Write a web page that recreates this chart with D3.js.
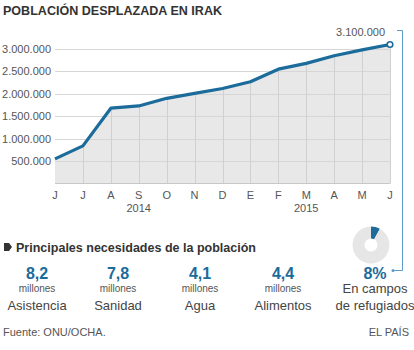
<!DOCTYPE html>
<html>
<head>
<meta charset="utf-8">
<script src="https://cdn.jsdelivr.net/npm/d3@7"></script>
<style>
  body { margin: 0; background: #fff; }
  svg { display: block; font-family: "Liberation Sans", Arial, sans-serif; }
</style>
</head>
<body>
<svg id="chart" width="414" height="350"></svg>
<script>
// months from June 2014 to June 2015
const months = ["J", "J", "A", "S", "O", "N", "D", "E", "F", "M", "A", "M", "J"];
const displaced = [550000, 840000, 1680000, 1730000, 1900000, 2010000, 2120000, 2270000, 2550000, 2680000, 2850000, 2980000, 3100000];
const yTicks = [500000, 1000000, 1500000, 2000000, 2500000, 3000000];
const yearLabels = ["2014", "2015"];
const yearAt = [3, 9];

const needValues = ["8,2", "7,8", "4,1", "4,4"];
const needNames = ["Asistencia", "Sanidad", "Agua", "Alimentos"];
const campShare = 8;

const blue = "#1b6b9b";
const svg = d3.select("#chart");
const es = d3.formatLocale({decimal: ",", thousands: ".", grouping: [3], currency: ["", "€"]});
const fmt = es.format(",d");

// title
svg.append("text")
  .attr("x", 3).attr("y", 15)
  .attr("font-size", 13).attr("font-weight", "bold").attr("fill", "#333")
  .attr("textLength", 219).attr("lengthAdjust", "spacingAndGlyphs")
  .text("POBLACIÓN DESPLAZADA EN IRAK");

const x = d3.scaleLinear().domain([0, months.length - 1]).range([55, 390]);
const y = d3.scaleLinear().domain([0, 3000000]).range([183.5, 49]);
const pts = displaced.map((v, i) => [i, v]);

// area
svg.append("path")
  .datum(pts)
  .attr("fill", "#e8e8e8")
  .attr("d", d3.area().x(d => x(d[0])).y0(y(0)).y1(d => y(d[1])));

// horizontal grid
svg.append("g").selectAll("line")
  .data(yTicks)
  .join("line")
  .attr("x1", x(0)).attr("x2", x(months.length - 1))
  .attr("y1", d => Math.round(y(d)) + 0.5).attr("y2", d => Math.round(y(d)) + 0.5)
  .attr("stroke", "#d6d6d6").attr("stroke-width", 1);

// vertical grid, only under the line
svg.append("g").selectAll("line")
  .data(pts.slice(1))
  .join("line")
  .attr("x1", d => Math.round(x(d[0])) + 0.5).attr("x2", d => Math.round(x(d[0])) + 0.5)
  .attr("y1", y(0)).attr("y2", d => y(d[1]))
  .attr("stroke", "#d0d0d0").attr("stroke-width", 1);

// baseline
svg.append("line")
  .attr("x1", x(0)).attr("x2", x(months.length - 1))
  .attr("y1", 183.5).attr("y2", 183.5)
  .attr("stroke", "#c8c8c8");

// y labels
svg.append("g").selectAll("text")
  .data(yTicks)
  .join("text")
  .attr("x", 51).attr("y", d => y(d) + 4)
  .attr("text-anchor", "end").attr("font-size", 11).attr("fill", "#555")
  .text(d => fmt(d));

// month labels
svg.append("g").selectAll("text")
  .data(months)
  .join("text")
  .attr("x", (d, i) => x(i)).attr("y", 199)
  .attr("text-anchor", "middle").attr("font-size", 11).attr("fill", "#555")
  .text(d => d);

svg.append("g").selectAll("text")
  .data(yearLabels)
  .join("text")
  .attr("x", (d, i) => x(yearAt[i])).attr("y", 212)
  .attr("text-anchor", "middle").attr("font-size", 11).attr("fill", "#555")
  .text(d => d);

// line
svg.append("path")
  .datum(pts)
  .attr("fill", "none").attr("stroke", blue).attr("stroke-width", 3.2)
  .attr("stroke-linejoin", "round")
  .attr("d", d3.line().x(d => x(d[0])).y(d => y(d[1])));

const last = pts[pts.length - 1];
svg.append("circle")
  .attr("cx", x(last[0])).attr("cy", y(last[1])).attr("r", 2.8)
  .attr("fill", "#fff").attr("stroke", blue).attr("stroke-width", 1.6);

svg.append("text")
  .attr("x", 385).attr("y", 36)
  .attr("text-anchor", "end").attr("font-size", 11).attr("fill", "#555")
  .text(fmt(last[1]));

// connector to the 8% figure
const linkColor = "#5d9cc8";
svg.append("path")
  .attr("fill", "none").attr("stroke", linkColor).attr("stroke-width", 1)
  .attr("d", "M397,30.5H402.5V270.5H393");
svg.append("circle")
  .attr("cx", 393).attr("cy", 270.5).attr("r", 1.5).attr("fill", linkColor);

// subtitle with marker
svg.append("path")
  .attr("d", "M4,243H9L12,247L9,251H4Z")
  .attr("fill", "#333");
svg.append("text")
  .attr("x", 16).attr("y", 252)
  .attr("font-size", 13).attr("font-weight", "bold").attr("fill", "#333")
  .attr("textLength", 240).attr("lengthAdjust", "spacingAndGlyphs")
  .text("Principales necesidades de la población");

// needs columns
const colX = [37, 118, 200, 283];
const needs = svg.append("g").selectAll("g")
  .data(needValues)
  .join("g")
  .attr("transform", (d, i) => `translate(${colX[i]},0)`);

needs.append("text")
  .attr("y", 279).attr("text-anchor", "middle")
  .attr("font-size", 16).attr("font-weight", "bold").attr("fill", blue)
  .text(d => d);
needs.append("text")
  .attr("y", 292).attr("text-anchor", "middle")
  .attr("font-size", 10).attr("fill", "#555")
  .text("millones");
needs.append("text")
  .attr("y", 310).attr("text-anchor", "middle")
  .attr("font-size", 13).attr("fill", "#444")
  .text((d, i) => needNames[i]);

// donut for refugee camps
const donut = svg.append("g").attr("transform", "translate(371,245)");
const arc = d3.arc().innerRadius(6.5).outerRadius(18.5);
const pie = d3.pie().sort(null)([campShare, 100 - campShare]);
donut.selectAll("path")
  .data(pie)
  .join("path")
  .attr("d", arc)
  .attr("fill", (d, i) => i === 0 ? blue : "#e6e6e6");

svg.append("text")
  .attr("x", 375).attr("y", 279).attr("text-anchor", "middle")
  .attr("font-size", 16).attr("font-weight", "bold").attr("fill", blue)
  .text(campShare + "%");
svg.append("text")
  .attr("x", 375).attr("y", 293).attr("text-anchor", "middle")
  .attr("font-size", 13).attr("fill", "#444")
  .text("En campos");
svg.append("text")
  .attr("x", 375).attr("y", 310).attr("text-anchor", "middle")
  .attr("font-size", 13).attr("fill", "#444")
  .text("de refugiados");

// footer
svg.append("text")
  .attr("x", 3).attr("y", 336)
  .attr("font-size", 11).attr("fill", "#555")
  .text("Fuente: ONU/OCHA.");
svg.append("text")
  .attr("x", 409).attr("y", 336).attr("text-anchor", "end")
  .attr("font-size", 11).attr("fill", "#555")
  .text("EL PAÍS");
</script>
</body>
</html>
